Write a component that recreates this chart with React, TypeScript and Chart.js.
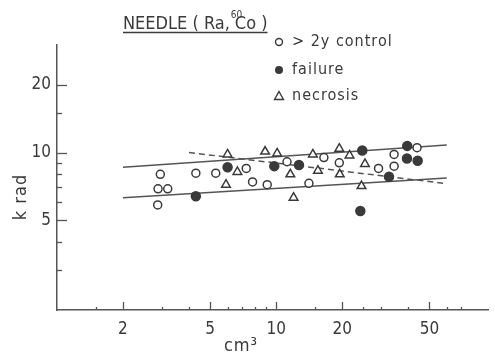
import { useEffect, useRef } from 'react';
import { Chart, registerables } from 'chart.js';

Chart.register(...registerables);

// ---- data ----
const controlX = [2.96, 4.3, 5.3, 2.89, 3.2, 2.88, 7.3, 11.2, 16.5, 19.4, 7.8, 9.1, 14.1, 29.3, 34.5, 34.5, 43.9];
const controlY = [8.0, 8.1, 8.1, 6.9, 6.9, 5.85, 8.5, 9.1, 9.5, 9.0, 7.4, 7.2, 7.3, 8.5, 9.8, 8.7, 10.5];
const failureX = [4.3, 6.0, 9.8, 12.7, 24.7, 39.6, 39.5, 44.2, 32.7, 24.2];
const failureY = [6.4, 8.6, 8.7, 8.8, 10.2, 10.7, 9.4, 9.2, 7.8, 5.5];
const necrosisX = [6.0, 5.9, 8.9, 10.1, 6.65, 11.6, 12.0, 14.7, 15.5, 19.4, 21.6, 19.5, 25.4, 24.5];
const necrosisY = [9.8, 7.2, 10.1, 9.9, 8.2, 8.0, 6.3, 9.8, 8.3, 10.4, 9.7, 8.0, 8.9, 7.1];
const upperLineX = [2, 60];
const upperLineY = [8.6, 10.8];
const lowerLineX = [2, 60];
const lowerLineY = [6.3, 7.7];
const dashedLineX = [4, 58];
const dashedLineY = [10.0, 7.3];

const xMajorTicks = [2, 5, 10, 20, 50];
const xMinorTicks = [1.5, 3, 4, 6, 7, 8, 9, 15, 25, 30, 40, 60, 70];
const yMajorTicks = [5, 10, 20];
const yMinorTicks = [3, 4, 6, 7, 8, 9, 15];

const legendLabels = ['> 2y control', 'failure', 'necrosis'];
const titleMain = 'NEEDLE ( Ra,';
const titleSup = '60';
const titleEnd = 'Co )';
const xTitle = 'cm³';
const yTitle = 'k rad';

const FONT = '"Liberation Sans Narrow", "DejaVu Sans Condensed", "Roboto Condensed", "Liberation Sans", sans-serif';
const INK = '#3a3a3a';
const AXIS = '#555555';

const pts = (xs: number[], ys: number[]) => xs.map((x, i) => ({ x, y: ys[i] }));

const decorPlugin = {
  id: 'decor',
  afterDraw(chart: any) {
    const ctx = chart.ctx as CanvasRenderingContext2D;
    const xs = chart.scales.x;
    const ys = chart.scales.y;
    const { left, bottom } = chart.chartArea;
    ctx.save();
    // inward tick marks
    ctx.strokeStyle = AXIS;
    ctx.lineWidth = 1.3;
    const vt = (v: number, len: number) => {
      const px = Math.round(xs.getPixelForValue(v)) + 0.5;
      ctx.beginPath();
      ctx.moveTo(px, bottom);
      ctx.lineTo(px, bottom - len);
      ctx.stroke();
    };
    const ht = (v: number, len: number) => {
      const py = Math.round(ys.getPixelForValue(v)) + 0.5;
      ctx.beginPath();
      ctx.moveTo(left, py);
      ctx.lineTo(left + len, py);
      ctx.stroke();
    };
    xMajorTicks.forEach((v) => vt(v, 8));
    xMinorTicks.forEach((v) => vt(v, 3));
    yMajorTicks.forEach((v) => ht(v, 10));
    yMinorTicks.forEach((v) => ht(v, 5));

    ctx.fillStyle = INK;
    // title
    (ctx as any).letterSpacing = '0px';
    ctx.font = `18px ${FONT}`;
    ctx.textAlign = 'left';
    ctx.textBaseline = 'alphabetic';
    const tx = 123;
    ctx.fillText(titleMain, tx, 29);
    const w1 = ctx.measureText(titleMain).width;
    ctx.font = `10px ${FONT}`;
    ctx.fillText(titleSup, tx + w1 + 1, 18);
    ctx.font = `18px ${FONT}`;
    ctx.fillText(titleEnd, tx + w1 + 5, 29);
    const wEnd = ctx.measureText(titleEnd).width;
    ctx.strokeStyle = INK;
    ctx.lineWidth = 1.5;
    ctx.beginPath();
    ctx.moveTo(tx, 32.5);
    ctx.lineTo(tx + w1 + 5 + wEnd, 32.5);
    ctx.stroke();

    // legend
    const lx = 279;
    const ly = [42, 70, 96];
    ctx.lineWidth = 1.4;
    ctx.strokeStyle = INK;
    ctx.beginPath();
    ctx.arc(lx, ly[0], 3.5, 0, Math.PI * 2);
    ctx.stroke();
    ctx.beginPath();
    ctx.arc(lx, ly[1], 4, 0, Math.PI * 2);
    ctx.fill();
    ctx.beginPath();
    ctx.moveTo(lx, ly[2] - 4.5);
    ctx.lineTo(lx + 4.5, ly[2] + 3.5);
    ctx.lineTo(lx - 4.5, ly[2] + 3.5);
    ctx.closePath();
    ctx.stroke();
    ctx.font = `16px ${FONT}`;
    (ctx as any).letterSpacing = '1px';
    ctx.textBaseline = 'middle';
    legendLabels.forEach((t, i) => ctx.fillText(t, 292, ly[i]));

    // axis titles
    ctx.font = `18px ${FONT}`;
    (ctx as any).letterSpacing = '1px';
    ctx.textAlign = 'center';
    ctx.fillText(xTitle, 241, 346);
    ctx.save();
    ctx.translate(21, 197);
    ctx.rotate(-Math.PI / 2);
    ctx.fillText(yTitle, 0, 0);
    ctx.restore();
    ctx.restore();
  },
};

export default function App() {
  const ref = useRef<HTMLCanvasElement | null>(null);
  useEffect(() => {
    if (!ref.current) return;
    const pointCommon = { showLine: false, borderWidth: 1.5, borderColor: INK };
    const chart = new Chart(ref.current, {
      type: 'scatter',
      data: {
        datasets: [
          { ...pointCommon, label: legendLabels[0], data: pts(controlX, controlY), pointStyle: 'circle', pointRadius: 4, backgroundColor: '#ffffff', order: 1 },
          { ...pointCommon, label: legendLabels[1], data: pts(failureX, failureY), pointStyle: 'circle', pointRadius: 4.5, backgroundColor: INK, order: 1 },
          { ...pointCommon, label: legendLabels[2], data: pts(necrosisX, necrosisY), pointStyle: 'triangle', pointRadius: 5, backgroundColor: '#ffffff', order: 1 },
          { label: 'upper', data: pts(upperLineX, upperLineY), showLine: true, pointRadius: 0, borderColor: AXIS, borderWidth: 1.5, order: 2 },
          { label: 'lower', data: pts(lowerLineX, lowerLineY), showLine: true, pointRadius: 0, borderColor: AXIS, borderWidth: 1.5, order: 2 },
          { label: 'dashed', data: pts(dashedLineX, dashedLineY), showLine: true, pointRadius: 0, borderColor: AXIS, borderWidth: 1.5, borderDash: [6, 4], order: 2 },
        ],
      },
      options: {
        responsive: false,
        animation: false,
        devicePixelRatio: 1,
        layout: { padding: { top: 45, right: 1, left: 0, bottom: 0 } },
        plugins: { legend: { display: false }, tooltip: { enabled: false }, title: { display: false } },
        scales: {
          x: {
            type: 'logarithmic',
            position: 'bottom',
            min: 1,
            max: 93,
            grid: { display: false, drawTicks: false },
            border: { display: true, color: AXIS, width: 1.5 },
            ticks: {
              autoSkip: false,
              maxRotation: 0,
              padding: 9,
              color: INK,
              font: { family: FONT, size: 17 },
              callback: (v: any) => (xMajorTicks.includes(Number(v)) ? String(v) : ''),
            },
            afterBuildTicks: (s: any) => {
              s.ticks = [...xMajorTicks, ...xMinorTicks].sort((a, b) => a - b).map((value) => ({ value }));
            },
            afterFit: (s: any) => {
              s.height = 46;
            },
          },
          y: {
            type: 'logarithmic',
            position: 'left',
            min: 2,
            max: 30,
            grid: { display: false, drawTicks: false },
            border: { display: true, color: AXIS, width: 1.5 },
            ticks: {
              autoSkip: false,
              padding: 6,
              color: INK,
              font: { family: FONT, size: 17 },
              callback: (v: any) => (yMajorTicks.includes(Number(v)) ? String(v) : ''),
            },
            afterBuildTicks: (s: any) => {
              s.ticks = [...yMajorTicks, ...yMinorTicks].sort((a, b) => a - b).map((value) => ({ value }));
            },
            afterFit: (s: any) => {
              s.width = 57;
            },
          },
        },
      } as any,
      plugins: [decorPlugin],
    });
    return () => chart.destroy();
  }, []);
  return (
    <div style={{ position: 'absolute', left: 0, top: 0, width: 495, height: 356, background: '#fff' }}>
      <canvas ref={ref} width={495} height={356} style={{ display: 'block' }} />
    </div>
  );
}
